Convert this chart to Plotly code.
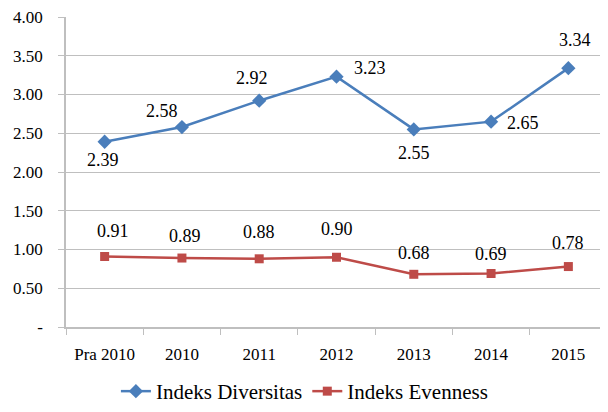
import plotly.graph_objects as go

categories = ["Pra 2010", "2010", "2011", "2012", "2013", "2014", "2015"]
diversitas = [2.39, 2.58, 2.92, 3.23, 2.55, 2.65, 3.34]
evenness = [0.91, 0.89, 0.88, 0.90, 0.68, 0.69, 0.78]
y_ticks = [0, 0.5, 1.0, 1.5, 2.0, 2.5, 3.0, 3.5, 4.0]
y_ticklabels = ["-"] + [f"{v:.2f}" for v in y_ticks[1:]]

# label offsets in pixels (dx right, dy up)
div_off = [(-2, -18), (-20, 16), (-7, 23), (33, 9), (0, -24), (32, -1), (7, 28)]
eve_off = [(8, 25), (3, 22), (0, 27), (0, 28), (0, 21), (0, 20), (0, 24)]

BLUE = "#4A7EBB"
RED = "#BE4B48"
FONT = "Liberation Serif"

fig = go.Figure()
fig.add_trace(go.Scatter(x=categories, y=diversitas, mode="lines+markers",
                         name="Indeks Diversitas",
                         line=dict(color=BLUE, width=2.5),
                         marker=dict(symbol="diamond", size=11, color=BLUE)))
fig.add_trace(go.Scatter(x=categories, y=evenness, mode="lines+markers",
                         name="Indeks Evenness",
                         line=dict(color=RED, width=2.5),
                         marker=dict(symbol="square", size=9, color=RED)))

annotations = []
for vals, offs in ((diversitas, div_off), (evenness, eve_off)):
    for i, (v, (dx, dy)) in enumerate(zip(vals, offs)):
        annotations.append(dict(x=i, y=v, xref="x", yref="y",
                                text=f"{v:.2f}", showarrow=False,
                                xshift=dx, yshift=dy,
                                font=dict(family=FONT, size=18, color="#000")))

# the page body has an 8px default margin, so the figure is sized 600x404
fig.update_layout(
    width=600, height=404,
    margin=dict(l=58, r=1, t=9, b=85, autoexpand=False),
    paper_bgcolor="white", plot_bgcolor="white",
    font=dict(family=FONT, size=17, color="#000"),
    showlegend=True,
    legend=dict(orientation="h", xref="container", x=0.494, xanchor="center",
                yref="container", y=0.0, yanchor="bottom",
                font=dict(family=FONT, size=21, color="#000"), itemwidth=30,
                traceorder="normal"),
    annotations=annotations,
)
fig.update_xaxes(type="category", range=[-0.5, 6.5], showgrid=False,
                 showline=True, linecolor="#BFBFBF", linewidth=1.5,
                 ticks="outside", tickson="boundaries", ticklen=6,
                 tickcolor="#BFBFBF", tickangle=0, automargin=False,
                 ticklabelstandoff=11, ticklabeloverflow="allow",
                 tickfont=dict(family=FONT, size=17, color="#000"))
fig.update_yaxes(range=[0, 4], tickvals=y_ticks, ticktext=y_ticklabels,
                 showgrid=True, gridcolor="#BFBFBF", gridwidth=1.2,
                 showline=True, linecolor="#BFBFBF", linewidth=1.5,
                 ticks="outside", ticklen=6, tickcolor="#BFBFBF",
                 zeroline=False, automargin=False, ticklabeloverflow="allow",
                 tickfont=dict(family=FONT, size=17, color="#000"),
                 ticklabelstandoff=12)

fig.write_html("out.html")
